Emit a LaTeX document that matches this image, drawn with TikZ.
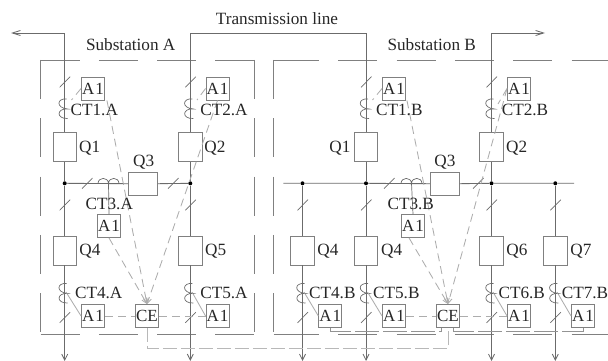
\documentclass[tikz,border=0pt]{standalone}
\usepackage{fontspec}
\setmainfont{Liberation Serif}
\usetikzlibrary{arrows.meta}
\definecolor{ln}{gray}{0.42}
\definecolor{bx}{gray}{0.5}
\definecolor{sg}{gray}{0.68}
\tikzset{
  wire/.style={draw=ln,line width=0.85pt},
  feed/.style={wire,-{Straight Barb[length=6pt,width=6pt]}},
  fence/.style={draw=bx,line width=0.85pt,dash pattern=on 39pt off 19.3pt},
  breaker/.style={draw=bx,line width=0.9pt,minimum width=23.5pt,minimum height=29pt,inner sep=0pt},
  qthree/.style={draw=bx,line width=0.9pt,minimum width=29pt,minimum height=23.5pt,inner sep=0pt},
  relay/.style={draw=bx,line width=0.9pt,minimum width=23pt,minimum height=23pt,inner sep=0pt,font=\fontsize{17}{18}\selectfont,text=black!85},
  lbl/.style={inner sep=0pt,font=\fontsize{17.2}{18}\selectfont,text=black!85},
  dot/.style={circle,fill=black,inner sep=0pt,minimum size=4pt},
  sig/.style={draw=sg,line width=0.85pt,dash pattern=on 8pt off 5pt},
  sigto/.style={sig,-{Straight Barb[length=5pt,width=5pt]}},
  link/.style={draw=gray!85,line width=0.7pt,dash pattern=on 24pt off 4pt},
  trunk/.style={draw=black!28,line width=1pt,dash pattern=on 14pt off 4pt},
  thin/.style={draw=ln,line width=0.7pt}
}
% slash mark on a vertical wire at (x,y)
\newcommand{\slashv}[2]{\draw[thin] (#1-5,#2+5.3) -- (#1+5.5,#2-5.3);}
% coil on a vertical wire, top at y
\newcommand{\coilv}[2]{\draw[thin] (#1+2,#2) .. controls (#1-8,#2-1) and (#1-9,#2+9) .. (#1+3,#2+10)
  .. controls (#1-8,#2+9) and (#1-9,#2+20) .. (#1+3,#2+19.5);}
% coil on the horizontal bus, left end at x
\newcommand{\coilh}[2]{\draw[thin] (#1,#2) .. controls (#1+0.5,#2-6.5) and (#1+10,#2-6.5) .. (#1+10.5,#2)
  .. controls (#1+11,#2-6.5) and (#1+20.5,#2-6.5) .. (#1+21,#2);}
\newcommand{\aone}{A\kern1pt 1}
\begin{document}
\begin{tikzpicture}[x=1pt,y=-1pt]
\useasboundingbox (0,0) rectangle (608,361);
% fences
\draw[fence] (40.5,60) -- (254.5,60);
\draw[fence] (40.5,334) -- (254.5,334);
\draw[fence] (40.5,60) -- (40.5,334);
\draw[fence] (254.5,60) -- (254.5,334);
\draw[fence] (273.5,60) -- (273.5,334);
\draw[draw=bx,line width=0.85pt] (273.5,60) -- (280,60);
\draw[fence] (280,60) -- (608,60);
\draw[draw=bx,line width=0.85pt] (273.5,334) -- (280,334);
\draw[fence] (280,334) -- (608,334);
% texts
\node[lbl] (tl) at (277,19) {Transmission line};
\node[lbl] (sa) at (130.7,44.7) {Substation A};
\node[lbl] (sb) at (431.7,44.7) {Substation B};
% breakers A
\node[breaker] (Q1A) at (64.7,147) {};
\node[breaker] (Q2A) at (190.3,147) {};
\node[breaker] (Q4A) at (64.7,250.5) {};
\node[breaker] (Q5A) at (190.3,250.5) {};
\node[qthree] (Q3A) at (143,183.7) {};
% breakers B
\node[breaker] (Q1B) at (366,147) {};
\node[breaker] (Q2B) at (491.5,147) {};
\node[qthree] (Q3B) at (444.7,183.7) {};
\node[breaker] (Q4B) at (302.5,250.5) {};
\node[breaker] (Q5B) at (366,250.5) {};
\node[breaker] (Q6B) at (491.5,250.5) {};
\node[breaker] (Q7B) at (555.3,250.5) {};
% dots
\node[dot] (dA1) at (64.7,183.3) {};
\node[dot] (dA2) at (190.3,183.3) {};
\node[dot] (dB1) at (302.5,183.3) {};
\node[dot] (dB2) at (366,183.3) {};
\node[dot] (dB3) at (491.5,183.3) {};
\node[dot] (dB4) at (555.3,183.3) {};
% relays
\node[relay] (R1A) at (93,88.5) {\aone};
\node[relay] (R2A) at (217.5,88.5) {\aone};
\node[relay] (R3A) at (109,226) {\aone};
\node[relay] (R4A) at (93,316) {\aone};
\node[relay] (R5A) at (217.5,316) {\aone};
\node[relay] (CEA) at (147,316) {CE};
\node[relay] (R1B) at (394,88.5) {\aone};
\node[relay] (R2B) at (519,88.5) {\aone};
\node[relay] (R3B) at (413,226) {\aone};
\node[relay] (R4B) at (330.3,316) {\aone};
\node[relay] (R5B) at (394,316) {\aone};
\node[relay] (CEB) at (448,316) {CE};
\node[relay] (R6B) at (519,316) {\aone};
\node[relay] (R7B) at (583,316) {\aone};
% free ends
\coordinate (top) at (0,33);
\coordinate (wl) at (11,33);
\coordinate (er) at (545,33);
\coordinate (busl) at (283.3,183.3);
\coordinate (busr) at (574,183.3);
\coordinate (lowy) at (0,361);
% wires, substation A
\draw[wire,-{Straight Barb[length=8pt,width=5pt]}] (Q1A.north) |- (wl);
\draw[wire] (Q2A.north) |- (top -| Q1B) -- (Q1B.north);
\draw[wire,-{Straight Barb[length=8pt,width=5pt]}] (Q2B.north) |- (er);
\draw[wire] (Q1A.south) -- (dA1) -- (Q4A.north);
\draw[wire] (Q2A.south) -- (dA2) -- (Q5A.north);
\draw[wire] (dA1) -- (Q3A.west);
\draw[wire] (Q3A.east) -- (dA2);
\draw[feed] (Q4A.south) -- (Q4A |- lowy);
\draw[feed] (Q5A.south) -- (Q5A |- lowy);
% wires, substation B
\draw[wire] (busl) -- (dB1) -- (dB2) -- (Q3B.west);
\draw[wire] (Q3B.east) -- (dB3) -- (dB4) -- (busr);
\draw[wire] (Q1B.south) -- (dB2) -- (Q5B.north);
\draw[wire] (Q2B.south) -- (dB3) -- (Q6B.north);
\draw[wire] (dB1) -- (Q4B.north);
\draw[wire] (dB4) -- (Q7B.north);
\foreach \q in {Q4B,Q5B,Q6B,Q7B}{\draw[feed] (\q.south) -- (\q |- lowy);}
% slashes
\foreach \x in {64.7,190.3,366,491.5}{\slashv{\x}{82}}
\foreach \x in {64.7,190.3,302.5,366,491.5,555.3}{\slashv{\x}{205}\slashv{\x}{317.5}}
\foreach \x in {87,173}{\slashv{\x}{183.3}}
\foreach \x in {389,478}{\slashv{\x}{183.3}}
% coils
\foreach \x in {64.7,190.3,366,491.5}{\coilv{\x}{99}}
\foreach \x in {64.7,190.3,302.5,366,491.5,555.3}{\coilv{\x}{283.5}}
\coilh{98}{183.3}
\coilh{401}{183.3}
\draw[thin] (108.5,183.3) -- (R3A.north);
\draw[thin] (411.5,183.3) -- (R3B.north);
% signal lines, A
\coordinate (c1A) at (71.5,100);
\coordinate (c2A) at (197,100);
\coordinate (c1B) at (372.5,100);
\coordinate (c2B) at (498,104);
\draw[sig] (R1A.west) -- (c1A);
\draw[sig] (R2A.west) -- (c2A);
\draw[sig] (R1B.west) -- (c1B);
\draw[sig] (R2B.west) -- (c2B);
\draw[sigto] (R1A.south east) ++(2,0) -- (CEA.north);
\draw[sigto] (R2A.south) -- (CEA.north);
\draw[sigto] (R3A.south) -- (CEA.north);
\draw[sigto] (R1B.south east) ++(1,0) -- (CEB.north);
\draw[sigto] (R2B.west) -- (CEB.north);
\draw[sigto] (R3B.south west) ++(8,0) -- (CEB.north);
\coordinate (l4A) at (66,292);
\coordinate (l5A) at (192,292);
\coordinate (l4B) at (304,292);
\coordinate (l5B) at (367.5,292);
\coordinate (l6B) at (493,292);
\coordinate (l7B) at (557,292);
\draw[draw=sg,line width=0.85pt] (l4A) -- (R4A.west);
\draw[draw=sg,line width=0.85pt] (l5A) -- (R5A.west);
\draw[draw=sg,line width=0.85pt] (l4B) -- (R4B.west);
\draw[draw=sg,line width=0.85pt] (l5B) -- (R5B.west);
\draw[draw=sg,line width=0.85pt] (l6B) -- (R6B.west);
\draw[draw=sg,line width=0.85pt] (l7B) -- (R7B.west);
\draw[sig] (R4A.east) -- (CEA.west);
\draw[sig] (CEA.east) -- (R5A.west);
\draw[sig] (R5B.east) -- (CEB.west);
\draw[sig] (CEB.east) -- (R6B.west);
% links under the relays of B
\coordinate (ly) at (0,331);
\coordinate (cel) at (441,327.5);
\coordinate (cer) at (453.5,327.5);
\draw[link] (R4B.south) -- (R4B.south |- ly) -- (cel |- ly) -- (cel);
\draw[link] (cer) -- (cer |- ly) -- (R7B.south |- ly) -- (R7B.south);
% trunk between the two CE units
\coordinate (ty) at (0,348);
\draw[trunk] (CEA.south) -- (CEA.south |- ty) -- (CEB.south |- ty) -- (CEB.south);
% labels
\node[lbl] (lQ1A) at (89.7,148) {Q1};
\node[lbl] (lQ2A) at (215,148) {Q2};
\node[lbl] (lQ3A) at (143.7,162.5) {Q3};
\node[lbl] (lQ4A) at (90,251) {Q4};
\node[lbl] (lQ5A) at (215.7,251) {Q5};
\node[lbl] (lC1A) at (94.3,110) {CT1.A};
\node[lbl] (lC2A) at (224,110) {CT2.A};
\node[lbl] (lC3A) at (109.3,204) {CT3.A};
\node[lbl] (lC4A) at (98.7,293) {CT4.A};
\node[lbl] (lC5A) at (224,293) {CT5.A};
\node[lbl] (lQ1B) at (340,148) {Q1};
\node[lbl] (lQ2B) at (516.7,148) {Q2};
\node[lbl] (lQ3B) at (445,162.5) {Q3};
\node[lbl] (lQ4B) at (328,251) {Q4};
\node[lbl] (lQ5B) at (391.7,251) {Q4};
\node[lbl] (lQ6B) at (517,251) {Q6};
\node[lbl] (lQ7B) at (581,251) {Q7};
\node[lbl] (lC1B) at (399.3,110) {CT1.B};
\node[lbl] (lC2B) at (525,110) {CT2.B};
\node[lbl] (lC3B) at (410.7,204) {CT3.B};
\node[lbl] (lC4B) at (332.3,293) {CT4.B};
\node[lbl] (lC5B) at (396.3,293) {CT5.B};
\node[lbl] (lC6B) at (521.7,293) {CT6.B};
\node[lbl] (lC7B) at (585,293) {CT7.B};
\end{tikzpicture}
\end{document}
